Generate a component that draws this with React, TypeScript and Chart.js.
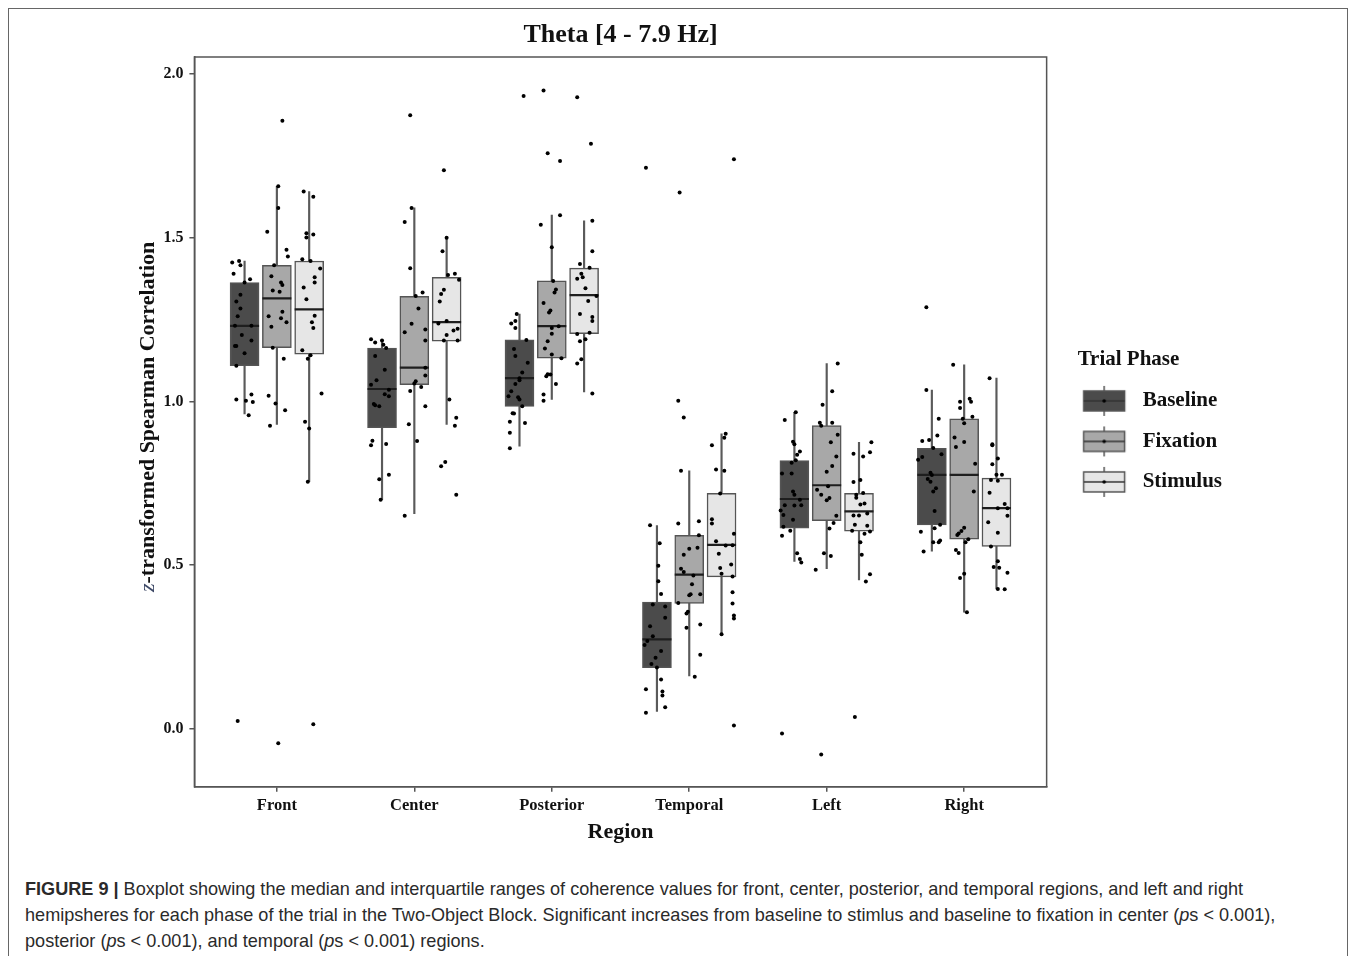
import React, { useEffect, useRef } from 'react';
import { Chart, registerables } from 'chart.js';

Chart.register(...registerables);

const regions = ['Front', 'Center', 'Posterior', 'Temporal', 'Left', 'Right'];
const phases = ['Baseline', 'Fixation', 'Stimulus'];
const yTicks = [0, 0.5, 1.0, 1.5, 2.0];

// [lower whisker, Q1, median, Q3, upper whisker] for each region
const baselineBox = [
  [0.962, 1.109, 1.231, 1.363, 1.429],
  [0.700, 0.920, 1.038, 1.163, 1.190],
  [0.863, 0.985, 1.071, 1.188, 1.267],
  [0.053, 0.187, 0.273, 0.387, 0.621],
  [0.511, 0.613, 0.702, 0.819, 0.967],
  [0.543, 0.623, 0.776, 0.857, 1.035],
];
const fixationBox = [
  [0.930, 1.164, 1.315, 1.416, 1.657],
  [0.657, 1.051, 1.103, 1.321, 1.591],
  [1.006, 1.132, 1.230, 1.368, 1.569],
  [0.162, 0.383, 0.471, 0.591, 0.788],
  [0.489, 0.636, 0.744, 0.926, 1.116],
  [0.356, 0.579, 0.776, 0.947, 1.112],
];
const stimulusBox = [
  [0.755, 1.144, 1.281, 1.429, 1.641],
  [0.930, 1.184, 1.242, 1.379, 1.500],
  [1.029, 1.207, 1.325, 1.407, 1.552],
  [0.289, 0.464, 0.562, 0.719, 0.901],
  [0.455, 0.604, 0.664, 0.719, 0.875],
  [0.427, 0.557, 0.674, 0.766, 1.071],
];

// jittered observations per region: [horizontal jitter (category units), value]
const baselinePoints = [
  [[-0.09, 1.424], [-0.04, 1.429], [-0.03, 1.416], [-0.08, 1.390], [0.04, 1.373], [0.00, 1.363], [-0.03, 1.326], [-0.06, 1.305], [-0.03, 1.284], [-0.05, 1.260], [-0.07, 1.231], [0.05, 1.231], [-0.02, 1.203], [0.05, 1.186], [-0.06, 1.169], [-0.07, 1.169], [0.00, 1.147], [-0.06, 1.109], [0.05, 1.021], [-0.06, 1.006], [0.01, 1.002], [0.06, 0.998], [0.03, 0.958], [-0.05, 0.024]],
  [[-0.08, 1.190], [0.00, 1.186], [-0.05, 1.180], [0.01, 1.173], [0.03, 1.163], [-0.05, 1.139], [0.02, 1.097], [-0.04, 1.065], [-0.08, 1.051], [0.05, 1.036], [0.02, 1.022], [0.05, 1.016], [-0.06, 0.992], [-0.02, 0.985], [-0.05, 0.988], [-0.07, 0.880], [-0.08, 0.866], [0.03, 0.870], [0.05, 0.776], [-0.02, 0.762], [-0.01, 0.700]],
  [[0.03, 1.933], [-0.02, 1.267], [-0.06, 1.238], [-0.03, 1.246], [-0.03, 1.224], [0.05, 1.188], [-0.04, 1.160], [-0.03, 1.139], [0.06, 1.118], [0.02, 1.088], [0.00, 1.071], [0.00, 1.065], [-0.03, 1.053], [-0.06, 1.031], [-0.08, 1.016], [-0.01, 1.013], [0.00, 1.006], [0.02, 0.985], [-0.05, 0.964], [-0.04, 0.963], [-0.07, 0.938], [0.04, 0.934], [-0.07, 0.904], [-0.07, 0.857]],
  [[-0.08, 1.714], [-0.05, 0.622], [0.02, 0.567], [0.01, 0.498], [0.01, 0.451], [0.03, 0.412], [-0.03, 0.380], [0.06, 0.374], [0.06, 0.339], [-0.05, 0.313], [-0.03, 0.283], [-0.07, 0.268], [-0.09, 0.256], [0.03, 0.238], [-0.01, 0.217], [-0.04, 0.198], [0.00, 0.187], [0.03, 0.151], [-0.08, 0.121], [0.04, 0.114], [0.04, 0.102], [0.06, 0.066], [-0.08, 0.049]],
  [[-0.07, 0.943], [0.01, 0.967], [-0.01, 0.877], [0.00, 0.869], [0.04, 0.847], [0.02, 0.837], [-0.02, 0.813], [0.01, 0.820], [-0.09, 0.780], [-0.02, 0.780], [-0.01, 0.725], [0.00, 0.715], [0.04, 0.700], [-0.07, 0.683], [0.00, 0.682], [0.05, 0.683], [-0.10, 0.667], [-0.08, 0.653], [-0.01, 0.639], [-0.08, 0.617], [-0.03, 0.605], [-0.09, 0.590], [0.02, 0.536], [0.04, 0.519], [0.05, 0.508], [-0.09, -0.014]],
  [[-0.04, 1.288], [-0.04, 1.035], [0.05, 0.947], [0.04, 0.896], [-0.07, 0.879], [-0.02, 0.882], [0.01, 0.858], [0.07, 0.839], [-0.07, 0.830], [-0.10, 0.822], [-0.01, 0.782], [0.00, 0.775], [-0.03, 0.763], [-0.01, 0.755], [0.03, 0.735], [0.01, 0.725], [0.02, 0.665], [0.06, 0.623], [0.02, 0.613], [-0.08, 0.602], [0.06, 0.575], [0.05, 0.570], [0.01, 0.570], [-0.06, 0.542]],
];
const fixationPoints = [
  [[0.04, 1.857], [0.01, 1.657], [0.01, 1.591], [-0.07, 1.518], [0.07, 1.463], [0.08, 1.443], [-0.02, 1.416], [-0.04, 1.382], [0.03, 1.363], [0.04, 1.356], [-0.03, 1.339], [0.02, 1.335], [0.04, 1.274], [-0.06, 1.260], [0.03, 1.254], [0.07, 1.242], [-0.04, 1.228], [-0.03, 1.164], [0.05, 1.130], [-0.06, 1.017], [-0.01, 0.994], [0.06, 0.973], [-0.05, 0.926], [0.01, -0.044]],
  [[-0.03, 1.874], [-0.02, 1.591], [-0.07, 1.548], [-0.03, 1.407], [0.06, 1.333], [0.01, 1.322], [0.03, 1.284], [-0.02, 1.237], [0.08, 1.220], [-0.07, 1.211], [0.08, 1.186], [0.08, 1.103], [0.08, 1.079], [0.01, 1.062], [0.00, 1.055], [0.05, 1.044], [-0.03, 1.032], [0.08, 0.985], [-0.04, 0.930], [0.02, 0.879], [-0.07, 0.651]],
  [[-0.06, 1.950], [-0.03, 1.758], [0.06, 1.734], [0.06, 1.569], [-0.08, 1.540], [0.00, 1.471], [0.01, 1.368], [0.03, 1.342], [0.02, 1.333], [-0.06, 1.301], [-0.01, 1.278], [-0.02, 1.272], [0.05, 1.230], [0.00, 1.224], [0.00, 1.207], [-0.03, 1.184], [-0.05, 1.162], [0.00, 1.143], [0.07, 1.132], [-0.03, 1.083], [-0.01, 1.082], [-0.04, 1.077], [0.03, 1.053], [-0.06, 1.021], [-0.06, 1.002]],
  [[-0.07, 1.638], [-0.08, 1.002], [-0.04, 0.951], [-0.06, 0.788], [-0.08, 0.627], [0.07, 0.634], [0.07, 0.591], [0.06, 0.553], [0.00, 0.550], [-0.04, 0.532], [-0.06, 0.489], [-0.04, 0.479], [0.03, 0.468], [0.02, 0.442], [0.01, 0.411], [0.08, 0.411], [0.00, 0.408], [-0.08, 0.384], [-0.01, 0.358], [-0.02, 0.352], [0.08, 0.319], [-0.02, 0.309], [0.08, 0.226], [0.04, 0.159]],
  [[0.08, 1.116], [0.04, 1.031], [-0.03, 0.990], [-0.05, 0.935], [-0.04, 0.926], [0.04, 0.935], [0.08, 0.898], [0.03, 0.875], [0.07, 0.832], [0.04, 0.803], [0.00, 0.785], [0.01, 0.741], [-0.07, 0.730], [-0.04, 0.715], [0.02, 0.705], [0.00, 0.698], [0.07, 0.651], [0.05, 0.629], [0.02, 0.612], [-0.02, 0.536], [0.03, 0.528], [-0.08, 0.486], [-0.04, -0.078]],
  [[-0.08, 1.112], [-0.03, 0.999], [0.04, 1.008], [0.05, 0.999], [-0.03, 0.980], [-0.01, 0.947], [0.06, 0.953], [0.00, 0.933], [-0.07, 0.890], [0.00, 0.876], [-0.06, 0.861], [0.08, 0.810], [0.07, 0.725], [0.00, 0.614], [-0.02, 0.604], [-0.04, 0.597], [-0.05, 0.592], [0.03, 0.579], [0.01, 0.570], [-0.06, 0.546], [-0.04, 0.537], [0.00, 0.474], [-0.03, 0.461], [0.02, 0.356]],
];
const stimulusPoints = [
  [[-0.04, 1.641], [0.03, 1.625], [-0.02, 1.514], [0.03, 1.510], [-0.02, 1.501], [-0.05, 1.434], [0.01, 1.429], [0.08, 1.406], [0.04, 1.379], [0.04, 1.363], [-0.04, 1.348], [-0.02, 1.312], [0.04, 1.262], [0.02, 1.242], [0.03, 1.224], [-0.05, 1.156], [0.01, 1.141], [-0.01, 1.130], [0.09, 1.024], [-0.03, 0.938], [0.00, 0.917], [-0.01, 0.755], [0.03, 0.014]],
  [[-0.02, 1.706], [0.00, 1.500], [-0.03, 1.459], [0.01, 1.386], [0.06, 1.390], [0.09, 1.372], [-0.02, 1.341], [-0.04, 1.328], [-0.05, 1.305], [-0.06, 1.238], [0.00, 1.246], [0.08, 1.222], [0.05, 1.217], [0.00, 1.203], [-0.02, 1.186], [0.08, 1.186], [0.02, 1.006], [0.07, 0.950], [0.06, 0.926], [-0.01, 0.815], [-0.04, 0.802], [0.07, 0.715]],
  [[-0.05, 1.929], [0.05, 1.787], [0.06, 1.552], [0.06, 1.459], [-0.03, 1.420], [0.04, 1.408], [-0.02, 1.390], [-0.01, 1.379], [-0.05, 1.375], [0.01, 1.346], [0.09, 1.322], [0.03, 1.307], [-0.03, 1.267], [0.06, 1.258], [0.06, 1.246], [0.04, 1.210], [-0.05, 1.206], [0.01, 1.190], [-0.03, 1.184], [-0.02, 1.129], [-0.05, 1.116], [0.06, 1.024]],
  [[0.09, 1.740], [0.03, 0.901], [0.02, 0.889], [-0.07, 0.866], [-0.04, 0.792], [0.02, 0.788], [-0.01, 0.719], [-0.07, 0.640], [-0.07, 0.627], [0.09, 0.596], [-0.04, 0.573], [0.03, 0.560], [0.08, 0.561], [-0.02, 0.535], [0.07, 0.502], [-0.01, 0.491], [0.00, 0.474], [0.08, 0.465], [0.08, 0.417], [0.08, 0.383], [0.09, 0.346], [0.09, 0.337], [0.00, 0.289], [0.09, 0.010]],
  [[0.09, 0.875], [-0.04, 0.840], [0.08, 0.845], [0.03, 0.832], [-0.04, 0.754], [0.01, 0.760], [-0.02, 0.715], [-0.02, 0.706], [0.03, 0.720], [0.01, 0.685], [0.04, 0.688], [0.06, 0.658], [-0.04, 0.652], [0.00, 0.652], [-0.03, 0.623], [0.06, 0.620], [-0.05, 0.605], [0.04, 0.596], [0.08, 0.603], [0.01, 0.570], [0.02, 0.532], [0.08, 0.472], [0.05, 0.450], [-0.03, 0.036]],
  [[-0.05, 1.071], [-0.03, 0.869], [-0.03, 0.866], [0.01, 0.826], [-0.03, 0.808], [0.04, 0.776], [0.00, 0.776], [-0.04, 0.760], [0.01, 0.758], [-0.05, 0.721], [0.06, 0.687], [0.08, 0.674], [0.01, 0.674], [0.08, 0.651], [-0.06, 0.631], [0.01, 0.599], [-0.04, 0.557], [0.01, 0.512], [-0.02, 0.494], [0.02, 0.492], [0.08, 0.477], [0.01, 0.427], [0.06, 0.426]],
];

const boxes = [baselineBox, fixationBox, stimulusBox];
const points = [baselinePoints, fixationPoints, stimulusPoints];
const fills = ['#4b4b4b', '#a8a8a8', '#e6e6e6'];
const dodge = [-0.235, 0, 0.235];

const SERIF = "'Liberation Serif', 'Times New Roman', serif";
const LEGEND_PAD = 19.5;
const LEGEND_FONT = 21;
const FIG_W = 1338;

function makeIcon(fill: string): HTMLCanvasElement {
  const c = document.createElement('canvas');
  c.width = 66;
  c.height = 32;
  const ctx = c.getContext('2d')!;
  const cx = 17.5 + 20.5;
  ctx.strokeStyle = '#555';
  ctx.lineWidth = 1.5;
  ctx.beginPath();
  ctx.moveTo(cx, 1);
  ctx.lineTo(cx, 31);
  ctx.stroke();
  ctx.fillStyle = fill;
  ctx.fillRect(17.5, 6, 41, 20);
  ctx.strokeRect(17.5, 6, 41, 20);
  ctx.strokeStyle = '#333';
  ctx.beginPath();
  ctx.moveTo(17.5, 16);
  ctx.lineTo(58.5, 16);
  ctx.stroke();
  ctx.fillStyle = '#000';
  ctx.beginPath();
  ctx.arc(cx, 16, 1.8, 0, Math.PI * 2);
  ctx.fill();
  return c;
}

const framePlugin = {
  id: 'panelFrame',
  afterDraw(chart: any) {
    const { ctx, chartArea } = chart;
    ctx.save();
    ctx.strokeStyle = '#555';
    ctx.lineWidth = 1.5;
    ctx.strokeRect(chartArea.left, chartArea.top, chartArea.right - chartArea.left, chartArea.bottom - chartArea.top);
    ctx.restore();
  },
};

const titlePlugin = {
  id: 'plotTitle',
  afterDraw(chart: any) {
    const { ctx, chartArea } = chart;
    ctx.save();
    ctx.font = `bold 26px ${SERIF}`;
    ctx.fillStyle = '#111';
    ctx.textAlign = 'center';
    ctx.textBaseline = 'middle';
    ctx.fillText('Theta [4 - 7.9 Hz]', (chartArea.left + chartArea.right) / 2, 26);
    ctx.restore();
  },
};

// y-axis title with an italic "z", drawn in the space the (transparent) axis title reserves
const yTitlePlugin = {
  id: 'yTitle',
  afterDraw(chart: any) {
    const { ctx, chartArea } = chart;
    const ys = chart.scales.y;
    const x = ys.left + 13.2;
    const y = (chartArea.top + chartArea.bottom) / 2 - 5;
    const zFont = `italic 22px ${SERIF}`;
    const restFont = `bold 22px ${SERIF}`;
    const rest = '-transformed Spearman Correlation';
    ctx.save();
    ctx.font = zFont;
    const zw = ctx.measureText('z').width;
    ctx.font = restFont;
    const rw = ctx.measureText(rest).width;
    ctx.translate(x, y);
    ctx.rotate(-Math.PI / 2);
    ctx.textBaseline = 'middle';
    ctx.textAlign = 'left';
    const start = -(zw + rw) / 2;
    ctx.font = zFont;
    ctx.fillStyle = '#3d4866';
    ctx.fillText('z', start, 0);
    ctx.font = restFont;
    ctx.fillStyle = '#111';
    ctx.fillText(rest, start + zw, 0);
    ctx.restore();
  },
};

// nudges the legend block down and draws its title left-aligned above the keys
const legendPlugin = {
  id: 'legendTweak',
  afterLayout(chart: any) {
    const lg = chart.legend;
    if (!lg) return;
    lg.top += 19.5;
    lg.bottom += 19.5;
  },
  afterDraw(chart: any) {
    const lg = chart.legend;
    if (!lg) return;
    const { ctx } = chart;
    const colH = lg.columnSizes && lg.columnSizes[0] ? lg.columnSizes[0].height : 3 * (LEGEND_FONT + LEGEND_PAD);
    const firstTop = (lg.top + LEGEND_PAD + lg.bottom - colH) / 2;
    const y = firstTop + LEGEND_FONT / 2 - 41;
    ctx.save();
    ctx.font = `bold 21px ${SERIF}`;
    ctx.fillStyle = '#111';
    ctx.textAlign = 'left';
    ctx.textBaseline = 'middle';
    ctx.fillText('Trial Phase', lg.left + 31, y);
    ctx.restore();
  },
};

export default function App() {
  const canvasRef = useRef<HTMLCanvasElement | null>(null);

  useEffect(() => {
    document.documentElement.style.overflow = 'hidden';
    document.body.style.marginBottom = '0';
    if (!canvasRef.current) return;
    const icons = fills.map(makeIcon);
    const datasets: any[] = [];
    phases.forEach((phase, i) => {
      const box = boxes[i];
      const off = dodge[i];
      datasets.push({
        type: 'bar',
        label: phase + ' whisker',
        data: box.map((b, j) => ({ x: j + 1 + off, y: [b[0], b[4]] })),
        backgroundColor: '#5a5a5a',
        borderWidth: 0,
        barThickness: 1.5,
        grouped: false,
        order: 5,
      });
      datasets.push({
        type: 'bar',
        label: phase,
        data: box.map((b, j) => ({ x: j + 1 + off, y: [b[1], b[3]] })),
        backgroundColor: fills[i],
        borderColor: '#555',
        borderWidth: 1.5,
        borderSkipped: false,
        barThickness: 29,
        grouped: false,
        order: 4,
      });
      datasets.push({
        type: 'scatter',
        label: phase + ' median',
        data: box.map((b, j) => ({ x: j + 1 + off, y: b[2] })),
        pointStyle: 'line',
        pointRadius: 14.5,
        pointBorderWidth: 2.2,
        borderColor: '#1e1e1e',
        order: 3,
      });
      datasets.push({
        type: 'scatter',
        label: phase + ' points',
        data: points[i].flatMap((arr, j) => arr.map(([dx, v]) => ({ x: j + 1 + off + dx, y: v }))),
        pointRadius: 2,
        pointBorderWidth: 0,
        backgroundColor: '#000',
        borderColor: '#000',
        order: 1,
      });
    });

    const chart = new Chart(canvasRef.current, {
      type: 'bar',
      data: { datasets },
      plugins: [framePlugin, titlePlugin, yTitlePlugin, legendPlugin],
      options: {
        animation: false,
        responsive: true,
        maintainAspectRatio: false,
        events: [],
        font: { family: SERIF },
        layout: { padding: { left: 126.5, right: 123 - (1346 - FIG_W), top: 48, bottom: 23 } },
        scales: {
          x: {
            type: 'linear',
            min: 0.4,
            max: 6.6,
            offset: false,
            afterBuildTicks: (scale: any) => {
              scale.ticks = regions.map((_, k) => ({ value: k + 1 }));
            },
            ticks: {
              autoSkip: false,
              maxRotation: 0,
              padding: 4,
              color: '#111',
              font: { family: SERIF, size: 16.5, weight: 'bold' },
              callback: (v: any) => regions[Math.round(Number(v)) - 1] ?? '',
            },
            grid: { drawOnChartArea: false, drawTicks: true, tickLength: 5, color: '#555', lineWidth: 1.5, offset: false },
            border: { display: true, color: '#555', width: 1.5 },
            title: {
              display: true,
              text: 'Region',
              color: '#111',
              font: { family: SERIF, size: 22, weight: 'bold' },
              padding: { top: 0, bottom: 0 },
            },
          },
          y: {
            type: 'linear',
            min: -0.177,
            max: 2.052,
            afterBuildTicks: (scale: any) => {
              scale.ticks = yTicks.map((v) => ({ value: v }));
            },
            ticks: {
              padding: 6,
              color: '#111',
              font: { family: SERIF, size: 16, weight: 'bold' },
              callback: (v: any) => Number(v).toFixed(1),
            },
            grid: { drawOnChartArea: false, drawTicks: true, tickLength: 5, color: '#555', lineWidth: 1.5 },
            border: { display: true, color: '#555', width: 1.5 },
            title: {
              display: true,
              text: 'z-transformed Spearman Correlation',
              color: 'rgba(0,0,0,0)',
              font: { family: SERIF, size: 22, weight: 'bold' },
              padding: { top: 0, bottom: -4.5 },
            },
          },
        },
        plugins: {
          tooltip: { enabled: false },
          legend: {
            display: true,
            position: 'right',
            fullSize: false,
            onClick: () => {},
            labels: {
              usePointStyle: true,
              pointStyleWidth: 66,
              padding: LEGEND_PAD,
              color: '#111',
              font: { family: SERIF, size: LEGEND_FONT, weight: 'bold' },
              generateLabels: () =>
                phases.map((p, i) => ({
                  text: p,
                  pointStyle: icons[i],
                  fillStyle: fills[i],
                  strokeStyle: '#555',
                  lineWidth: 0,
                  hidden: false,
                  fontColor: '#111',
                  datasetIndex: i * 4 + 1,
                })),
            },
            title: { display: false, text: 'Trial Phase' },
          },
        },
      } as any,
    });
    return () => chart.destroy();
  }, []);

  return (
    <div style={{ width: FIG_W, height: 947, overflow: 'hidden', borderTop: '1px solid #666', borderLeft: '1px solid #666', borderRight: '1px solid #666', background: '#fff' }}>
      <div style={{ position: 'relative', width: FIG_W, height: 860 }}>
        <canvas ref={canvasRef} />
      </div>
      <div
        style={{
          padding: '7px 16px 0',
          fontFamily: "'Liberation Sans', Arial, sans-serif",
          fontSize: 18.1,
          lineHeight: '26px',
          color: '#2a2a2a',
          whiteSpace: 'nowrap',
        }}
      >
        <b>FIGURE 9 |</b> Boxplot showing the median and interquartile ranges of coherence values for front, center, posterior, and temporal regions, and left and right
        <br />
        hemipsheres for each phase of the trial in the Two-Object Block. Significant increases from baseline to stimlus and baseline to fixation in center (<i>p</i>s &lt; 0.001),
        <br />
        posterior (<i>p</i>s &lt; 0.001), and temporal (<i>p</i>s &lt; 0.001) regions.
      </div>
    </div>
  );
}
